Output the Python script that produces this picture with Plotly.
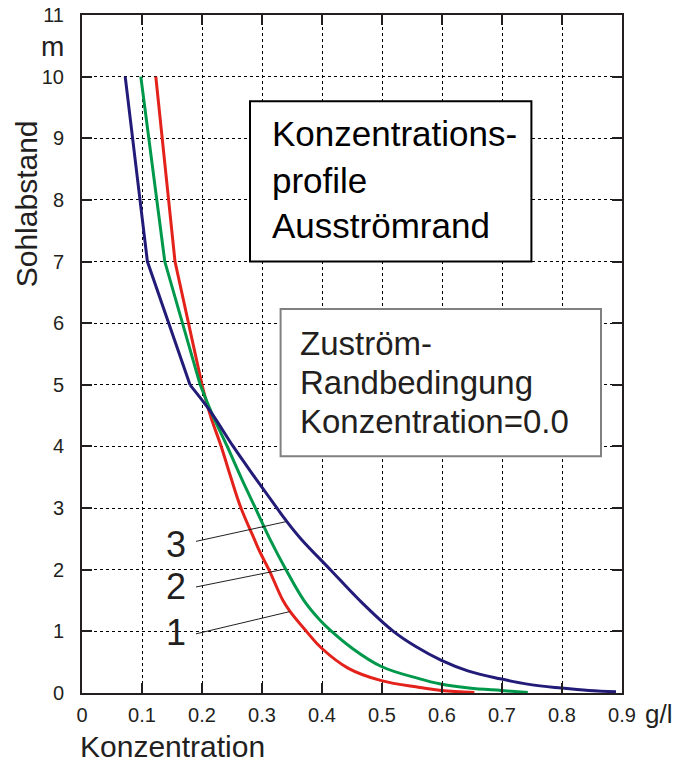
import plotly.graph_objects as go

# ---- data ----
y_blue = [10, 7, 5, 4.57, 4, 3.5, 3, 2.8, 2.5, 2, 1.5, 1, 0.75, 0.53, 0.36, 0.23, 0.14, 0.08, 0.04, 0.02]
x_blue = [0.072, 0.109, 0.180, 0.214, 0.252, 0.288, 0.325, 0.340, 0.365, 0.414, 0.463, 0.519, 0.557, 0.599, 0.643, 0.697, 0.745, 0.799, 0.845, 0.890]

y_green = [10, 7, 5, 4.5, 4, 3.5, 3, 2.5, 2, 1.5, 1.19, 1, 0.75, 0.43, 0.23, 0.15, 0.08, 0.04, 0.01]
x_green = [0.098, 0.138, 0.197, 0.218, 0.242, 0.265, 0.289, 0.313, 0.340, 0.370, 0.396, 0.416, 0.447, 0.499, 0.563, 0.596, 0.645, 0.699, 0.743]

y_red = [10, 7, 5, 4.5, 4, 3.5, 3, 2.5, 2.3, 1.97, 1.5, 1.32, 1, 0.73, 0.4, 0.2, 0.09, 0.04, 0.01]
x_red = [0.123, 0.155, 0.200, 0.214, 0.232, 0.248, 0.265, 0.287, 0.296, 0.313, 0.335, 0.347, 0.374, 0.399, 0.444, 0.499, 0.563, 0.599, 0.654]

curve_labels = ["3", "2", "1"]
label_x = [0.156, 0.156, 0.156]
label_y = [2.41, 1.73, 0.98]
leader_x0 = [0.19, 0.19, 0.19]
leader_y0 = [2.46, 1.72, 0.96]
leader_x1 = [0.340, 0.338, 0.346]
leader_y1 = [2.78, 2.01, 1.32]

x_ticks = [0, 0.1, 0.2, 0.3, 0.4, 0.5, 0.6, 0.7, 0.8, 0.9]
x_ticktext = ["0", "0.1", "0.2", "0.3", "0.4", "0.5", "0.6", "0.7", "0.8", "0.9"]
y_ticks = list(range(0, 12))

box1_lines = ["Konzentrations-", "profile", "Ausströmrand"]
box2_lines = ["Zuström-", "Randbedingung", "Konzentration=0.0"]

FONT = "Liberation Sans, Arial, sans-serif"
TXT = "#231f20"
KINK = 2  # index of the last straight-segment node (y = 5)

fig = go.Figure()
for xs, ys, col in [(x_red, y_red, "#e3231b"), (x_green, y_green, "#00994c"), (x_blue, y_blue, "#221c78")]:
    # straight upper part
    fig.add_trace(go.Scatter(x=xs[:KINK + 1], y=ys[:KINK + 1], mode="lines",
                             line=dict(color=col, width=3), hoverinfo="skip"))
    # smooth lower part
    fig.add_trace(go.Scatter(x=xs[KINK:], y=ys[KINK:], mode="lines",
                             line=dict(color=col, width=3, shape="spline", smoothing=1.1), hoverinfo="skip"))

for i in range(3):
    fig.add_trace(go.Scatter(x=[leader_x0[i], leader_x1[i]], y=[leader_y0[i], leader_y1[i]],
                             mode="lines", line=dict(color=TXT, width=1), hoverinfo="skip"))

axis_common = dict(showline=True, linecolor=TXT, linewidth=2, mirror="allticks",
                   ticks="inside", ticklen=10, tickwidth=2, tickcolor=TXT,
                   showgrid=True, gridcolor="black", gridwidth=1, griddash="dot",
                   zeroline=False, automargin=False,
                   tickfont=dict(family=FONT, size=20, color=TXT))

fig.update_xaxes(range=[0, 0.9], tickvals=x_ticks, ticktext=x_ticktext, ticklabelstandoff=3, **axis_common)
fig.update_yaxes(range=[0, 11], tickvals=y_ticks, ticklabelstandoff=12, **axis_common)

shapes = [
    dict(type="rect", xref="x", yref="y", x0=0.28, x1=0.749, y0=7.0, y1=9.6,
         fillcolor="white", line=dict(color="black", width=2), layer="above"),
    dict(type="rect", xref="x", yref="y", x0=0.331, x1=0.865, y0=3.84, y1=6.23,
         fillcolor="white", line=dict(color="#808080", width=2), layer="above"),
]

annotations = []
box1_y = [9.07, 8.31, 7.58]
for t, yy in zip(box1_lines, box1_y):
    annotations.append(dict(x=0.313, y=yy, xref="x", yref="y", text=t, showarrow=False,
                            xanchor="left", yanchor="middle", font=dict(family=FONT, size=35, color="black")))
box2_y = [5.67, 5.03, 4.40]
for t, yy in zip(box2_lines, box2_y):
    annotations.append(dict(x=0.36, y=yy, xref="x", yref="y", text=t, showarrow=False,
                            xanchor="left", yanchor="middle", font=dict(family=FONT, size=33, color=TXT)))
for t, xx, yy in zip(curve_labels, label_x, label_y):
    annotations.append(dict(x=xx, y=yy, xref="x", yref="y", text=t, showarrow=False,
                            xanchor="center", yanchor="middle", font=dict(family=FONT, size=36, color=TXT)))

annotations += [
    dict(x=-0.1026, y=0.7217, xref="paper", yref="paper", text="Sohlabstand", textangle=-90,
         showarrow=False, xanchor="center", yanchor="middle", font=dict(family=FONT, size=30, color=TXT)),
    dict(x=-0.0544, y=0.953, xref="paper", yref="paper", text="m",
         showarrow=False, xanchor="center", yanchor="middle", font=dict(family=FONT, size=28, color=TXT)),
    dict(x=-0.008, y=-0.079, xref="paper", yref="paper", text="Konzentration",
         showarrow=False, xanchor="left", yanchor="middle", font=dict(family=FONT, size=30, color=TXT)),
    dict(x=1.068, y=-0.0305, xref="paper", yref="paper", text="g/l",
         showarrow=False, xanchor="center", yanchor="middle", font=dict(family=FONT, size=26, color=TXT)),
]

fig.update_layout(width=684, height=763, margin=dict(l=82, r=62, t=15, b=70),
                  plot_bgcolor="white", paper_bgcolor="white", showlegend=False,
                  shapes=shapes, annotations=annotations)

fig.write_html("out.html", config={"displayModeBar": False},
               post_script="document.body.style.margin='0px';")
